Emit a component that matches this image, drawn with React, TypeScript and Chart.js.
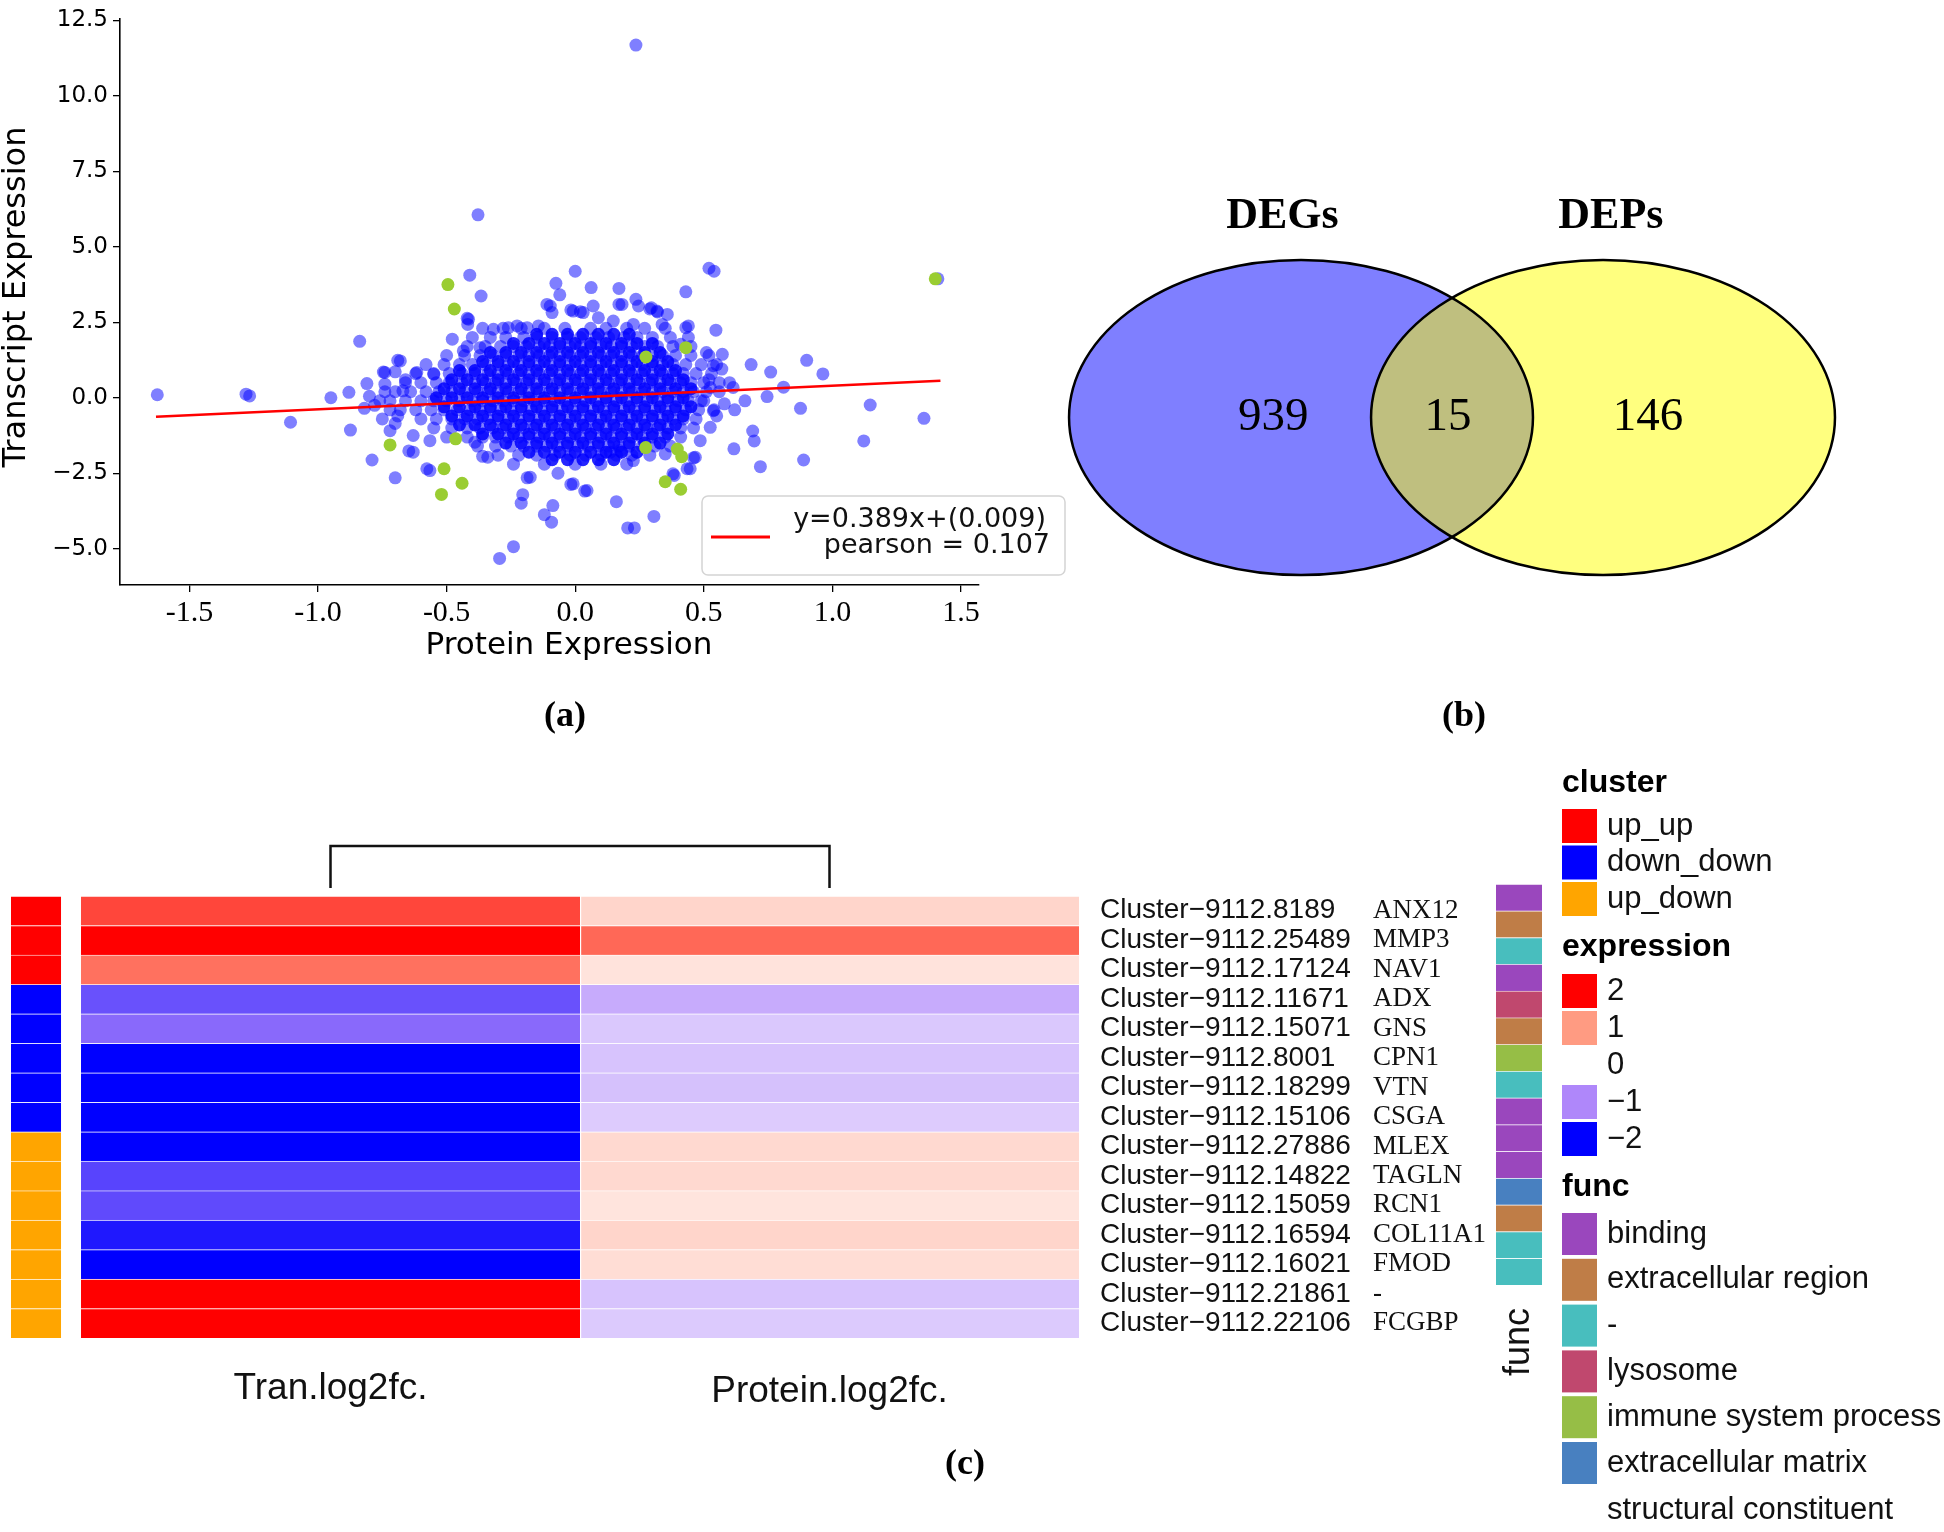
import React, { useEffect, useRef } from 'react';
import { Chart, registerables } from 'chart.js';

Chart.register(...registerables);

// ================= Panel (a): protein vs transcript scatter =================
const xTicksA = [-1.5, -1, -0.5, 0, 0.5, 1, 1.5];
const yTicksA = [-5, -2.5, 0, 2.5, 5, 7.5, 10, 12.5];

// overlapping genes (green)
const greenPoints: [number, number][] = [
  [-0.495, 3.75], [-0.47, 2.94], [1.4, 3.94], [0.43, 1.66], [0.275, 1.35],
  [-0.72, -1.56], [-0.465, -1.36], [-0.51, -2.35], [-0.44, -2.83], [-0.52, -3.2],
  [0.274, -1.65], [0.397, -1.7], [0.414, -1.95], [0.35, -2.78], [0.41, -3.03],
];

// scattered blue points outside the dense core
const outlierPoints: [number, number][] = [
  [0.236, 11.68], [-0.378, 6.06], [0.0, 4.19], [-0.41, 4.06], [0.52, 4.29], [0.54, 4.19],
  [1.41, 3.94], [-0.075, 3.79], [0.062, 3.65], [0.17, 3.62], [0.43, 3.51], [-0.366, 3.37],
  [-0.06, 3.41], [0.236, 3.26], [-0.11, 3.09], [-0.017, 2.91], [0.02, 2.85], [0.17, 3.09],
  [0.29, 2.94], [0.32, 2.84], [-0.42, 2.63], [-0.418, 2.43], [0.547, 2.24], [0.43, 2.32],
  [-0.838, 1.87], [-0.478, 1.94], [-0.69, 1.24], [-0.746, 0.85], [-0.81, 0.47], [0.9, 1.24],
  [0.963, 0.79], [0.684, 1.1], [0.76, 0.85], [0.572, 1.44], [0.614, 0.34], [0.81, 0.35],
  [0.746, 0.04], [0.66, -0.1], [-1.625, 0.1], [-1.28, 0.12], [-1.266, 0.06], [-0.95, 0.0],
  [-0.88, 0.18], [-1.107, -0.81], [-0.874, -1.07], [-0.79, -2.06], [-0.7, -2.65], [0.876, -0.35],
  [1.147, -0.24], [1.356, -0.68], [0.69, -1.1], [0.696, -1.43], [0.617, -1.69], [1.122, -1.43],
  [0.888, -2.06], [0.72, -2.28], [0.46, -1.99], [0.435, -2.35], [-0.577, -2.35], [-0.187, -2.65],
  [-0.067, -2.5], [-0.017, -2.87], [0.037, -3.09], [-0.204, -3.21], [-0.21, -3.49], [0.16, -3.44],
  [-0.087, -3.57], [-0.12, -3.87], [-0.092, -4.12], [0.204, -4.31], [0.23, -4.31], [0.306, -3.93],
  [-0.24, -4.93], [-0.294, -5.32], [0.385, -2.57], [-0.36, -1.94], [-0.647, -1.76],
  [-0.415, 2.6], [-0.68, 1.22], [-0.74, 0.84], [-0.7, 0.86], [-0.616, 0.84], [-0.55, 0.78],
  [-0.67, 0.23], [-0.72, -1.09], [-0.63, -1.25], [-0.565, -1.42], [-0.63, -1.8], [-0.565, -2.41],
  [-0.39, -1.47], [-0.34, -1.97], [-0.175, -2.63], [-0.008, -2.85], [0.046, -3.07], [0.136, -1.8],
  [0.175, -1.75], [0.226, -2.08], [0.35, -1.86], [0.38, -2.52], [0.447, -2.35], [0.467, -1.97],
  [0.486, -1.42], [0.537, -0.43], [0.525, -0.98], [0.44, 2.38], [0.338, 2.43], [0.318, 2.87],
  [0.296, 2.98], [0.246, 3.04], [0.182, 3.09], [0.07, 3.04], [-0.008, 2.87], [0.031, 2.82],
  [-0.097, 3.04], [-0.09, 2.82], [0.09, 2.65], [0.148, 2.54], [0.226, 2.43], [-0.226, 2.38],
  [-0.187, 2.32], [-0.26, 2.32], [-0.318, 2.27], [-0.143, 2.38], [0.358, 2.76], [0.41, 1.77],
  [0.51, 1.5], [0.537, 1.06], [0.525, 0.34], [0.5, -0.1], [-0.435, 1.55], [-0.37, 1.66],
  [-0.76, -0.1], [-0.74, 0.2], [-0.72, -0.4], [-0.78, -0.25], [-0.8, 0.05], [-0.69, -0.6],
  [-0.75, -0.7], [-0.82, -0.35], [-0.74, 0.45], [-0.66, 0.6], [-0.7, -0.85], [0.52, 0.6],
  [0.56, 0.2], [0.58, -0.2], [0.55, -0.6], [0.6, 0.5], [0.62, -0.4], [0.57, 0.95],
];

// halo of the cloud, read row by row: [transcript value, protein values]
const haloRows: [number, number[]][] = [
  [2.3, [-0.36, -0.28, -0.21, -0.12, -0.04, 0.06, 0.12, 0.2, 0.27, 0.35]],
  [2.0, [-0.4, -0.33, -0.27, -0.2, -0.15, -0.09, -0.03, 0.02, 0.08, 0.13, 0.19, 0.24, 0.3, 0.37, 0.44]],
  [1.7, [-0.42, -0.35, -0.29, -0.24, -0.19, -0.14, -0.1, -0.06, -0.02, 0.02, 0.06, 0.1, 0.14, 0.18, 0.22, 0.27, 0.32, 0.38, 0.45]],
  [1.4, [-0.5, -0.43, -0.37, -0.32, -0.27, -0.22, -0.18, -0.14, -0.1, -0.06, -0.02, 0.02, 0.06, 0.1, 0.14, 0.18, 0.22, 0.26, 0.3, 0.34, 0.39, 0.45, 0.52]],
  [1.1, [-0.58, -0.51, -0.45, -0.4, -0.35, -0.3, -0.26, -0.22, -0.18, -0.14, -0.1, -0.06, -0.02, 0.02, 0.06, 0.1, 0.14, 0.18, 0.22, 0.26, 0.3, 0.34, 0.38, 0.43, 0.49, 0.55]],
  [0.8, [-0.62, -0.55, -0.49, -0.44, -0.39, -0.34, -0.3, -0.26, -0.22, -0.18, -0.14, -0.1, -0.06, -0.02, 0.02, 0.06, 0.1, 0.14, 0.18, 0.22, 0.26, 0.3, 0.34, 0.38, 0.42, 0.47, 0.53]],
  [0.5, [-0.66, -0.6, -0.54, -0.49, -0.44, -0.39, -0.35, -0.31, -0.27, -0.23, -0.19, -0.15, -0.11, -0.07, -0.03, 0.01, 0.05, 0.09, 0.13, 0.17, 0.21, 0.25, 0.29, 0.33, 0.37, 0.41, 0.45, 0.5, 0.56]],
  [0.2, [-0.7, -0.64, -0.58, -0.53, -0.48, -0.43, -0.38, -0.34, -0.3, -0.26, -0.22, -0.18, -0.14, -0.1, -0.06, -0.02, 0.02, 0.06, 0.1, 0.14, 0.18, 0.22, 0.26, 0.3, 0.34, 0.38, 0.42, 0.46, 0.51]],
  [-0.1, [-0.72, -0.66, -0.6, -0.55, -0.5, -0.45, -0.4, -0.36, -0.32, -0.28, -0.24, -0.2, -0.16, -0.12, -0.08, -0.04, 0.0, 0.04, 0.08, 0.12, 0.16, 0.2, 0.24, 0.28, 0.32, 0.36, 0.4, 0.44, 0.49]],
  [-0.4, [-0.68, -0.62, -0.56, -0.51, -0.46, -0.41, -0.37, -0.33, -0.29, -0.25, -0.21, -0.17, -0.13, -0.09, -0.05, -0.01, 0.03, 0.07, 0.11, 0.15, 0.19, 0.23, 0.27, 0.31, 0.35, 0.39, 0.43, 0.48, 0.54]],
  [-0.7, [-0.6, -0.54, -0.48, -0.43, -0.38, -0.34, -0.3, -0.26, -0.22, -0.18, -0.14, -0.1, -0.06, -0.02, 0.02, 0.06, 0.1, 0.14, 0.18, 0.22, 0.26, 0.3, 0.34, 0.38, 0.42, 0.47]],
  [-1.0, [-0.55, -0.48, -0.42, -0.37, -0.32, -0.28, -0.24, -0.2, -0.16, -0.12, -0.08, -0.04, 0.0, 0.04, 0.08, 0.12, 0.16, 0.2, 0.24, 0.28, 0.32, 0.36, 0.41, 0.46]],
  [-1.3, [-0.5, -0.42, -0.36, -0.31, -0.26, -0.22, -0.18, -0.14, -0.1, -0.06, -0.02, 0.02, 0.06, 0.1, 0.14, 0.18, 0.22, 0.26, 0.3, 0.35, 0.41]],
  [-1.6, [-0.38, -0.31, -0.25, -0.2, -0.15, -0.11, -0.07, -0.03, 0.01, 0.05, 0.09, 0.13, 0.17, 0.21, 0.26, 0.31, 0.37]],
  [-1.9, [-0.3, -0.22, -0.15, -0.08, -0.02, 0.04, 0.1, 0.16, 0.22, 0.29]],
  [-2.2, [-0.24, -0.12, 0.0, 0.1, 0.2]],
];

// saturated centre of the cloud where the points pile up
const coreRows: [number, number[]][] = [
  [2.1, [-0.15, -0.09, -0.03, 0.03, 0.09, 0.15, 0.21]],
  [1.8, [-0.24, -0.18, -0.12, -0.06, 0.0, 0.06, 0.12, 0.18, 0.24, 0.3]],
  [1.5, [-0.33, -0.27, -0.21, -0.15, -0.09, -0.03, 0.03, 0.09, 0.15, 0.21, 0.27, 0.33]],
  [1.2, [-0.36, -0.3, -0.24, -0.18, -0.12, -0.06, 0.0, 0.06, 0.12, 0.18, 0.24, 0.3, 0.36]],
  [0.9, [-0.45, -0.39, -0.33, -0.27, -0.21, -0.15, -0.09, -0.03, 0.03, 0.09, 0.15, 0.21, 0.27, 0.33, 0.39]],
  [0.6, [-0.48, -0.42, -0.36, -0.3, -0.24, -0.18, -0.12, -0.06, 0.0, 0.06, 0.12, 0.18, 0.24, 0.3, 0.36, 0.42]],
  [0.3, [-0.51, -0.45, -0.39, -0.33, -0.27, -0.21, -0.15, -0.09, -0.03, 0.03, 0.09, 0.15, 0.21, 0.27, 0.33, 0.39, 0.45]],
  [0.0, [-0.54, -0.48, -0.42, -0.36, -0.3, -0.24, -0.18, -0.12, -0.06, 0.0, 0.06, 0.12, 0.18, 0.24, 0.3, 0.36, 0.42]],
  [-0.3, [-0.51, -0.45, -0.39, -0.33, -0.27, -0.21, -0.15, -0.09, -0.03, 0.03, 0.09, 0.15, 0.21, 0.27, 0.33, 0.39, 0.45]],
  [-0.6, [-0.48, -0.42, -0.36, -0.3, -0.24, -0.18, -0.12, -0.06, 0.0, 0.06, 0.12, 0.18, 0.24, 0.3, 0.36, 0.42]],
  [-0.9, [-0.45, -0.39, -0.33, -0.27, -0.21, -0.15, -0.09, -0.03, 0.03, 0.09, 0.15, 0.21, 0.27, 0.33, 0.39]],
  [-1.2, [-0.36, -0.3, -0.24, -0.18, -0.12, -0.06, 0.0, 0.06, 0.12, 0.18, 0.24, 0.3, 0.36]],
  [-1.5, [-0.27, -0.21, -0.15, -0.09, -0.03, 0.03, 0.09, 0.15, 0.21, 0.27, 0.33]],
  [-1.8, [-0.18, -0.12, -0.06, 0.0, 0.06, 0.12, 0.18, 0.24]],
  [-2.05, [-0.09, -0.03, 0.03, 0.09, 0.15]],
];

const regSlope = 0.389;
const regIntercept = 0.009;
const regRange = [-1.63, 1.42];
const legendLinesA = ['y=0.389x+(0.009)', 'pearson = 0.107'];

// ================= Panel (b): Venn =================
const vennSets = ['DEGs', 'DEPs'];
const vennCounts = [939, 15, 146]; // DEGs only, both, DEPs only

// ================= Panel (c): heatmap =================
const clusterIds = [
  'Cluster\u22129112.8189', 'Cluster\u22129112.25489', 'Cluster\u22129112.17124', 'Cluster\u22129112.11671',
  'Cluster\u22129112.15071', 'Cluster\u22129112.8001', 'Cluster\u22129112.18299', 'Cluster\u22129112.15106',
  'Cluster\u22129112.27886', 'Cluster\u22129112.14822', 'Cluster\u22129112.15059', 'Cluster\u22129112.16594',
  'Cluster\u22129112.16021', 'Cluster\u22129112.21861', 'Cluster\u22129112.22106',
];
const geneNames = ['ANX12', 'MMP3', 'NAV1', 'ADX', 'GNS', 'CPN1', 'VTN', 'CSGA', 'MLEX', 'TAGLN', 'RCN1', 'COL11A1', 'FMOD', '-', 'FCGBP'];
const tranLog2fc = [1.55, 2.0, 1.27, -1.4, -1.22, -2, -2, -2, -2, -1.5, -1.45, -1.82, -2, 2, 2];
const proteinLog2fc = [0.42, 1.33, 0.28, -0.7, -0.46, -0.5, -0.52, -0.43, 0.38, 0.38, 0.27, 0.42, 0.34, -0.5, -0.44];
const clusterGroup = ['up_up', 'up_up', 'up_up', 'down_down', 'down_down', 'down_down', 'down_down', 'down_down',
  'up_down', 'up_down', 'up_down', 'up_down', 'up_down', 'up_down', 'up_down'];
const funcGroup = ['binding', 'extracellular region', '-', 'binding', 'lysosome', 'extracellular region',
  'immune system process', '-', 'binding', 'binding', 'binding', 'extracellular matrix', 'extracellular region', '-', '-'];
const columnLabels = ['Tran.log2fc.', 'Protein.log2fc.'];

const clusterLevels = ['up_up', 'down_down', 'up_down'];
const clusterColors = ['#ff0000', '#0000ff', '#ffa500'];
const expressionLevels = [2, 1, 0, -1, -2];
const funcLevels = ['binding', 'extracellular region', '-', 'lysosome', 'immune system process', 'extracellular matrix'];
const funcColors = ['#9a47bd', '#bf7d47', '#48bebe', '#c0486e', '#96be46', '#4880c0'];

// colour ramp of the heatmap
const rampStops: [number, number[]][] = [
  [-2, [0, 0, 255]], [-1, [175, 135, 250]], [0, [255, 255, 255]], [1, [255, 155, 130]], [2, [255, 0, 0]],
];
function expColor(v: number): string {
  const c = Math.max(-2, Math.min(2, v));
  for (let i = 0; i < rampStops.length - 1; i++) {
    const [a, ca] = rampStops[i];
    const [b, cb] = rampStops[i + 1];
    if (c >= a && c <= b) {
      const t = (c - a) / (b - a);
      const rgb = ca.map((q, k) => Math.round(q + (cb[k] - q) * t));
      return `rgb(${rgb[0]},${rgb[1]},${rgb[2]})`;
    }
  }
  return '#fff';
}

const SANS = '"Liberation Sans", Arial, sans-serif';
const SERIF = '"Liberation Serif", "Times New Roman", serif';
const DEJAVU = '"DejaVu Sans", sans-serif';

// ---------- Panel (a) chart ----------
function buildScatter(): any {
  const toPts = (rows: [number, number[]][]) => rows.flatMap(([y, xs]) => xs.map((x) => ({ x, y })));
  const blue = [...outlierPoints.map(([x, y]) => ({ x, y })), ...toPts(haloRows)];
  const core = toPts(coreRows);
  const green = greenPoints.map(([x, y]) => ({ x, y }));
  const line = regRange.map((x) => ({ x, y: regSlope * x + regIntercept }));

  const plugin = {
    id: 'panelA',
    afterDraw(chart: any) {
      const { ctx } = chart;
      ctx.save();
      ctx.fillStyle = '#000';
      ctx.textAlign = 'center';
      ctx.textBaseline = 'middle';
      ctx.font = `31px ${DEJAVU}`;
      ctx.fillText('Protein Expression', 569, 646);
      ctx.save();
      ctx.translate(17, 297);
      ctx.rotate(-Math.PI / 2);
      ctx.font = `32px ${DEJAVU}`;
      ctx.fillText('Transcript Expression', 0, 0);
      ctx.restore();

      // legend box
      const bx = 702, by = 496, bw = 363, bh = 79, r = 6;
      ctx.beginPath();
      ctx.moveTo(bx + r, by);
      ctx.arcTo(bx + bw, by, bx + bw, by + bh, r);
      ctx.arcTo(bx + bw, by + bh, bx, by + bh, r);
      ctx.arcTo(bx, by + bh, bx, by, r);
      ctx.arcTo(bx, by, bx + bw, by, r);
      ctx.closePath();
      ctx.fillStyle = 'rgba(255,255,255,0.85)';
      ctx.fill();
      ctx.strokeStyle = '#d4d4d4';
      ctx.lineWidth = 1.5;
      ctx.stroke();
      ctx.beginPath();
      ctx.moveTo(711, 537);
      ctx.lineTo(770, 537);
      ctx.strokeStyle = '#ff0000';
      ctx.lineWidth = 3;
      ctx.stroke();
      ctx.fillStyle = '#111';
      ctx.font = `27px ${DEJAVU}`;
      ctx.textAlign = 'right';
      ctx.textBaseline = 'alphabetic';
      ctx.fillText(legendLinesA[0], 1046, 527);
      ctx.fillText(legendLinesA[1], 1050, 553);

      ctx.fillStyle = '#000';
      ctx.textAlign = 'center';
      ctx.textBaseline = 'middle';
      ctx.font = `bold 36px ${SERIF}`;
      ctx.fillText('(a)', 565, 717);
      ctx.restore();
    },
  };

  const axisCommon = {
    grid: { display: true, drawOnChartArea: false, drawTicks: true, tickLength: 7, color: '#000', lineWidth: 1.3 },
    border: { display: true, color: '#000', width: 1.6 },
  };

  return {
    type: 'scatter',
    data: {
      datasets: [
        { data: line, showLine: true, borderColor: '#ff0000', borderWidth: 2.5, pointRadius: 0, order: 0 },
        { data: green, backgroundColor: '#9acd32', pointRadius: 6.5, borderWidth: 0, order: 1 },
        { data: core, backgroundColor: 'rgba(0,0,255,0.85)', pointRadius: 6.5, borderWidth: 0, order: 2 },
        { data: blue, backgroundColor: 'rgba(0,0,255,0.5)', pointRadius: 6.5, borderWidth: 0, order: 3 },
      ],
    },
    options: {
      animation: false,
      responsive: false,
      maintainAspectRatio: false,
      events: [],
      elements: { point: { radius: 6.5, borderWidth: 0 } },
      layout: { padding: { left: 0, top: 18, right: 91, bottom: 0 } },
      plugins: { legend: { display: false }, tooltip: { enabled: false } },
      scales: {
        x: {
          type: 'linear', min: -1.77, max: 1.57,
          afterBuildTicks: (s: any) => { s.ticks = xTicksA.map((value) => ({ value })); },
          afterFit: (s: any) => { s.height = 175; },
          ticks: {
            color: '#000', padding: 3, maxRotation: 0, autoSkip: false,
            font: { family: SERIF, size: 30 },
            callback: (v: any) => Number(v).toFixed(1),
          },
          ...axisCommon,
        },
        y: {
          type: 'linear', min: -6.2, max: 12.55,
          afterBuildTicks: (s: any) => { s.ticks = yTicksA.map((value) => ({ value })); },
          afterFit: (s: any) => { s.width = 120; },
          ticks: {
            color: '#000', padding: 5, autoSkip: false,
            font: { family: DEJAVU, size: 23 },
            callback: (v: any) => (Number(v) < 0 ? '\u2212' + Math.abs(Number(v)).toFixed(1) : Number(v).toFixed(1)),
          },
          ...axisCommon,
        },
      },
    },
    plugins: [plugin],
  };
}

// ---------- Panel (b) chart ----------
function buildVenn(): any {
  const plugin = {
    id: 'venn',
    afterDraw(chart: any) {
      const { ctx, scales: { x, y } } = chart;
      const rx = x.getPixelForValue(1) - x.getPixelForValue(0);
      const ry = y.getPixelForValue(0) - y.getPixelForValue(1);
      const cy = y.getPixelForValue(0);
      const c1 = x.getPixelForValue(0);
      const c2 = x.getPixelForValue(1.302);
      ctx.save();
      ctx.beginPath();
      ctx.ellipse(c1, cy, rx, ry, 0, 0, Math.PI * 2);
      ctx.fillStyle = 'rgba(0,0,255,0.5)';
      ctx.fill();
      ctx.beginPath();
      ctx.ellipse(c2, cy, rx, ry, 0, 0, Math.PI * 2);
      ctx.fillStyle = 'rgba(255,255,0,0.5)';
      ctx.fill();
      ctx.lineWidth = 2.5;
      ctx.strokeStyle = '#000';
      ctx.beginPath();
      ctx.ellipse(c1, cy, rx, ry, 0, 0, Math.PI * 2);
      ctx.stroke();
      ctx.beginPath();
      ctx.ellipse(c2, cy, rx, ry, 0, 0, Math.PI * 2);
      ctx.stroke();

      ctx.fillStyle = '#000';
      ctx.textAlign = 'center';
      ctx.textBaseline = 'middle';
      ctx.font = `bold 44px ${SERIF}`;
      ctx.fillText(vennSets[0], x.getPixelForValue(-0.08), y.getPixelForValue(1.273));
      ctx.fillText(vennSets[1], x.getPixelForValue(1.336), y.getPixelForValue(1.273));
      ctx.font = `47px ${SERIF}`;
      const ny = y.getPixelForValue(0.0);
      ctx.fillText(String(vennCounts[0]), x.getPixelForValue(-0.12), ny);
      ctx.fillText(String(vennCounts[1]), x.getPixelForValue(0.634), ny);
      ctx.fillText(String(vennCounts[2]), x.getPixelForValue(1.496), ny);
      ctx.font = `bold 36px ${SERIF}`;
      ctx.fillText('(b)', x.getPixelForValue(0.703), y.getPixelForValue(-1.898));
      ctx.restore();
    },
  };
  return {
    type: 'scatter',
    data: { datasets: [{ data: [], pointRadius: 0 }] },
    options: {
      animation: false, responsive: false, maintainAspectRatio: false, events: [],
      layout: { padding: 0 },
      plugins: { legend: { display: false }, tooltip: { enabled: false } },
      scales: {
        x: { type: 'linear', display: false, min: -1.039, max: 2.772 },
        y: { type: 'linear', display: false, min: -2.238, max: 1.698 },
      },
    },
    plugins: [plugin],
  };
}

// ---------- Panel (c) heatmap chart ----------
const CLUSTER_BAR = [-0.1403, -0.04];
function buildHeatmap(): any {
  const plugin = {
    id: 'heatLabels',
    afterDraw(chart: any) {
      const { ctx, chartArea: ca, scales: { x, y } } = chart;
      ctx.save();
      // dendrogram
      const xa = x.getPixelForValue(0.5), xb = x.getPixelForValue(1.5);
      const yTop = ca.top - 50, yBot = ca.top - 8;
      ctx.strokeStyle = '#111';
      ctx.lineWidth = 2.5;
      ctx.beginPath();
      ctx.moveTo(xa, yBot);
      ctx.lineTo(xa, yTop);
      ctx.lineTo(xb, yTop);
      ctx.lineTo(xb, yBot);
      ctx.stroke();
      // row labels
      ctx.fillStyle = '#111';
      ctx.textBaseline = 'middle';
      ctx.textAlign = 'left';
      clusterIds.forEach((id, i) => {
        const py = y.getPixelForValue(i);
        ctx.font = `28px ${SANS}`;
        ctx.fillText(id, ca.right + 21, py);
        ctx.font = `27px ${SERIF}`;
        ctx.fillText(geneNames[i], ca.right + 294, py);
      });
      // column labels
      ctx.textAlign = 'center';
      ctx.font = `37px ${SANS}`;
      ctx.fillText(columnLabels[0], x.getPixelForValue(0.5), ca.bottom + 51);
      ctx.fillText(columnLabels[1], x.getPixelForValue(1.5), ca.bottom + 54);
      ctx.fillStyle = '#000';
      ctx.font = `bold 36px ${SERIF}`;
      ctx.fillText('(c)', 965, ca.bottom + 127);
      ctx.restore();
    },
  };
  const sep = { top: 1, bottom: 0, left: 0, right: 0 };
  return {
    type: 'bar',
    data: {
      labels: geneNames,
      datasets: [
        {
          data: clusterGroup.map(() => CLUSTER_BAR),
          backgroundColor: clusterGroup.map((g) => clusterColors[clusterLevels.indexOf(g)]),
          borderColor: 'rgba(255,255,255,0.25)', borderWidth: sep, borderSkipped: false,
        },
        {
          data: tranLog2fc.map(() => [0, 1]),
          backgroundColor: tranLog2fc.map(expColor),
          borderColor: 'rgba(255,255,255,0.25)', borderWidth: sep, borderSkipped: false,
        },
        {
          data: proteinLog2fc.map(() => [1, 2]),
          backgroundColor: proteinLog2fc.map(expColor),
          borderColor: 'rgba(255,255,255,0.45)', borderWidth: { top: 1, bottom: 0, left: 1.5, right: 0 }, borderSkipped: false,
        },
      ],
    },
    options: {
      animation: false, responsive: false, maintainAspectRatio: false, events: [],
      indexAxis: 'y',
      layout: { padding: { left: 11, right: 411, top: 76, bottom: 194 } },
      datasets: { bar: { grouped: false, barPercentage: 1, categoryPercentage: 1 } },
      plugins: { legend: { display: false }, tooltip: { enabled: false } },
      scales: {
        x: { type: 'linear', display: false, min: CLUSTER_BAR[0], max: 2 },
        y: { type: 'category', display: false, offset: true },
      },
    },
    plugins: [plugin],
  };
}

// ---------- func annotation column + legends ----------
function buildFunc(): any {
  const plugin = {
    id: 'funcLegend',
    afterDraw(chart: any) {
      const { ctx, chartArea: ca } = chart;
      ctx.save();
      // rotated "func" label
      ctx.fillStyle = '#111';
      ctx.textAlign = 'center';
      ctx.textBaseline = 'middle';
      ctx.save();
      ctx.translate((ca.left + ca.right) / 2, ca.bottom + 57);
      ctx.rotate(-Math.PI / 2);
      ctx.font = `36px ${SANS}`;
      ctx.fillText('func', 0, 0);
      ctx.restore();

      const sx = 82, sw = 35, tx = 127;
      ctx.textAlign = 'left';
      const title = (t: string, yy: number) => {
        ctx.fillStyle = '#000';
        ctx.font = `bold 32px ${SANS}`;
        ctx.fillText(t, sx, yy);
      };
      const item = (label: string, color: string | null, y0: number, h: number) => {
        if (color) {
          ctx.fillStyle = color;
          ctx.fillRect(sx, y0, sw, h);
        }
        ctx.fillStyle = '#111';
        ctx.font = `31px ${SANS}`;
        ctx.fillText(label, tx, y0 + h / 2);
      };
      title('cluster', 43);
      clusterLevels.forEach((l, i) => item(l, clusterColors[i], 69 + i * 36.5, 34));
      title('expression', 207);
      expressionLevels.forEach((v, i) => {
        const c = v === 0 ? null : expColor(v);
        item(v < 0 ? '\u2212' + Math.abs(v) : String(v), c, 234 + i * 37, 34);
      });
      title('func', 447);
      funcLevels.forEach((l, i) => item(l, funcColors[i], 473 + i * 45.8, 42));
      ctx.fillStyle = '#111';
      ctx.font = `31px ${SANS}`;
      ctx.fillText('structural constituent', tx, 770);
      ctx.restore();
    },
  };
  return {
    type: 'bar',
    data: {
      labels: geneNames,
      datasets: [
        {
          data: funcGroup.map(() => [0, 1]),
          backgroundColor: funcGroup.map((f) => funcColors[funcLevels.indexOf(f)]),
          borderColor: 'rgba(255,255,255,0.2)', borderWidth: { top: 1, bottom: 0, left: 0, right: 0 }, borderSkipped: false,
        },
      ],
    },
    options: {
      animation: false, responsive: false, maintainAspectRatio: false, events: [],
      indexAxis: 'y',
      layout: { padding: { left: 16, right: 402, top: 144, bottom: 247 } },
      datasets: { bar: { barPercentage: 1, categoryPercentage: 1 } },
      plugins: { legend: { display: false }, tooltip: { enabled: false } },
      scales: {
        x: { type: 'linear', display: false, min: 0, max: 1 },
        y: { type: 'category', display: false, offset: true },
      },
    },
    plugins: [plugin],
  };
}

function ChartCanvas({ x, y, w, h, build }: { x: number; y: number; w: number; h: number; build: () => any }) {
  const ref = useRef<HTMLCanvasElement>(null);
  useEffect(() => {
    const chart = new Chart(ref.current as HTMLCanvasElement, build());
    return () => chart.destroy();
  }, []);
  return (
    <canvas
      ref={ref}
      width={w}
      height={h}
      style={{ position: 'absolute', left: x, top: y, width: w, height: h }}
    />
  );
}

export default function App() {
  return (
    <div style={{ position: 'fixed', left: 0, top: 0, width: 1944, height: 1532, background: '#fff', overflow: 'hidden' }}>
      <ChartCanvas x={0} y={0} w={1070} h={760} build={buildScatter} />
      <ChartCanvas x={1060} y={150} w={884} h={620} build={buildVenn} />
      <ChartCanvas x={0} y={820} w={1490} h={712} build={buildHeatmap} />
      <ChartCanvas x={1480} y={740} w={464} h={792} build={buildFunc} />
    </div>
  );
}
